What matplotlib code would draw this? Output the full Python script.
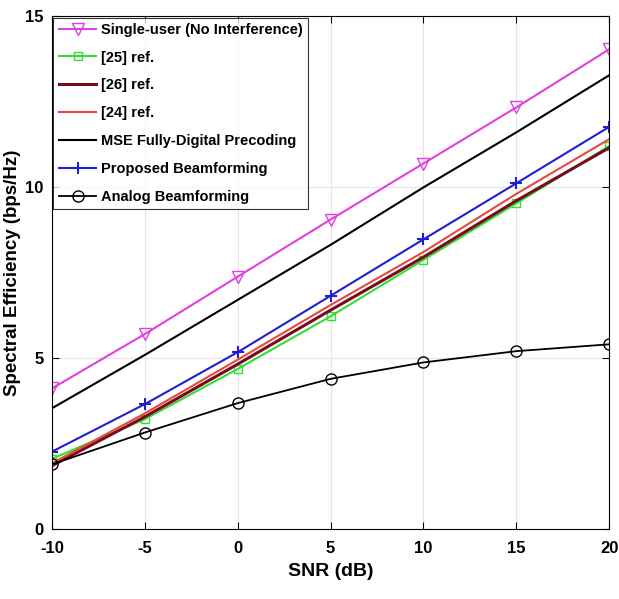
import matplotlib.pyplot as plt

snr = [-10, -5, 0, 5, 10, 15, 20]

single_user = [4.11, 5.70, 7.38, 9.05, 10.69, 12.33, 14.03]
ref25 = [2.05, 3.21, 4.68, 6.22, 7.87, 9.52, 11.20]
ref26 = [1.85, 3.28, 4.82, 6.40, 7.95, 9.60, 11.15]
ref24 = [1.92, 3.38, 4.95, 6.55, 8.10, 9.80, 11.40]
mse_digital = [3.53, 5.09, 6.70, 8.31, 9.99, 11.60, 13.27]
proposed = [2.26, 3.65, 5.17, 6.82, 8.47, 10.11, 11.76]
analog = [1.89, 2.82, 3.68, 4.39, 4.87, 5.20, 5.40]

plt.rcParams['font.family'] = ['Liberation Sans', 'DejaVu Sans']
plt.rcParams['axes.unicode_minus'] = False

fig = plt.figure(figsize=(6.19, 5.99), dpi=100)
ax = fig.add_axes([0.084, 0.117, 0.900, 0.856])

ax.plot(snr, single_user, color='#e040e0', marker='v', markersize=9,
        markerfacecolor='none', lw=1.5, label='Single-user (No Interference)')
ax.plot(snr, ref25, color='#33dd33', marker='s', markersize=6,
        markerfacecolor='none', lw=1.5, label='[25] ref.')
ax.plot(snr, ref26, color='#7a0a1e', lw=2.2, label='[26] ref.')
ax.plot(snr, ref24, color='#e8483c', lw=1.5, label='[24] ref.')
ax.plot(snr, mse_digital, color='black', lw=1.5, label='MSE Fully-Digital Precoding')
ax.plot(snr, proposed, color='#1f1fd0', marker='+', markersize=9,
        markeredgewidth=1.5, lw=1.5, label='Proposed Beamforming')
ax.plot(snr, analog, color='black', marker='o', markersize=8,
        markerfacecolor='none', lw=1.3, label='Analog Beamforming')

ax.set_xlim(-10, 20)
ax.set_ylim(0, 15)
ax.set_xticks(snr)
ax.set_yticks([0, 5, 10, 15])
ax.grid(True, color='#e6e6e6', lw=0.8)
ax.tick_params(direction='in', length=5, labelsize=12, width=0.8,
               top=True, right=True)
ax.tick_params(axis='x', pad=9)
ax.tick_params(axis='y', pad=6)
for lbl in ax.get_xticklabels() + ax.get_yticklabels():
    lbl.set_fontweight('bold')
for s in ax.spines.values():
    s.set_linewidth(0.8)

ax.set_xlabel('SNR (dB)', fontsize=14, fontweight='bold', labelpad=5)
ax.set_ylabel('Spectral Efficiency (bps/Hz)', fontsize=13.5, fontweight='bold',
              labelpad=3)

leg = ax.legend(loc='upper left', prop={'weight': 'bold', 'size': 10.5},
                frameon=True, fancybox=False, edgecolor='black', borderaxespad=0.1,
                handlelength=2.6, handletextpad=0.3, labelspacing=0.95, borderpad=0.35)
leg.get_frame().set_linewidth(0.8)

fig.savefig('out.png', dpi=100)
